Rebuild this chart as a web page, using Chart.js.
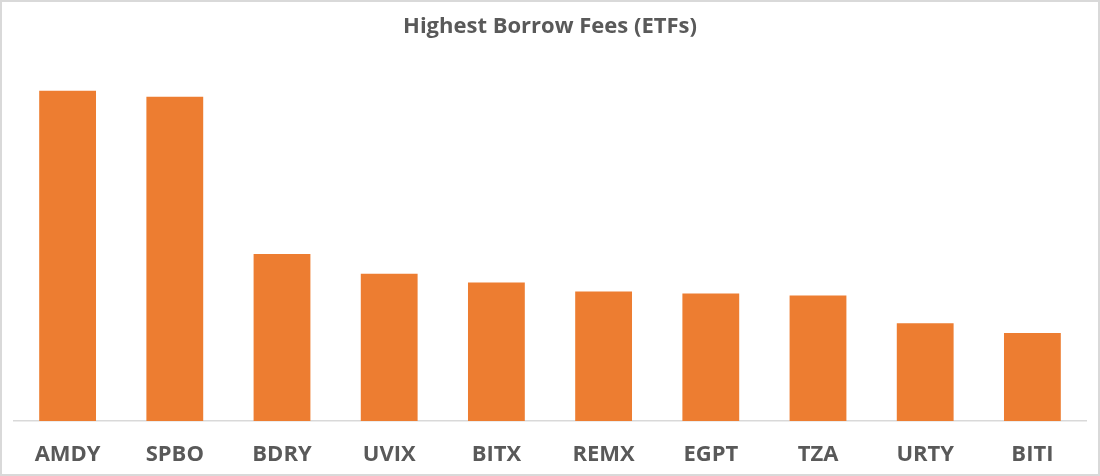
<!DOCTYPE html>
<html>
<head>
<meta charset="utf-8">
<script src="https://cdn.jsdelivr.net/npm/chart.js@4.4.1/dist/chart.umd.min.js"></script>
<style>
	body { margin: 0; background: #fff; }
	#caixa {
		width: 1100px;
		height: 476px;
		box-sizing: border-box;
		border: 2px solid #d9d9d9;
		background: #fff;
	}
	canvas { display: block; }
</style>
</head>
<body>
<div id="caixa">
	<canvas id="grafico" width="1096" height="472"></canvas>
</div>
<script>
const categorias = ["AMDY", "SPBO", "BDRY", "UVIX", "BITX", "REMX", "EGPT", "TZA", "URTY", "BITI"];
const taxas = [334, 328, 169, 149, 140, 131, 129, 127, 99, 89];
const maxTaxa = 350;

const fonte = "'Open Sans', 'Liberation Sans', sans-serif";
const cinza = "#595959";

const grafico = new Chart(document.querySelector("#grafico"), {
	type: "bar",
	data: {
		labels: categorias,
		datasets: [
			{
				label: "Borrow Fee",
				data: taxas,
				backgroundColor: "#ED7D31",
				borderWidth: 0,
				barPercentage: 0.53,
				categoryPercentage: 1,
			},
		],
	},
	options: {
		responsive: false,
		animation: false,
		layout: {
			padding: { left: 12, right: 12, top: 0, bottom: -14.6 },
		},
		scales: {
			x: {
				grid: { display: false, drawTicks: false },
				border: { display: true, color: "#d9d9d9", width: 1.5 },
				ticks: {
					color: cinza,
					padding: 20.6,
					font: { family: fonte, size: 22, weight: "bold", lineHeight: 1.2 },
				},
			},
			y: {
				display: false,
				min: 0,
				max: maxTaxa,
			},
		},
		plugins: {
			legend: { display: false },
			tooltip: { enabled: false },
			title: {
				display: true,
				text: "Highest Borrow Fees (ETFs)",
				color: cinza,
				padding: { top: 12, bottom: 34.6 },
				font: { family: fonte, size: 22, weight: "bold", lineHeight: 1.2 },
			},
		},
	},
});
</script>
</body>
</html>
